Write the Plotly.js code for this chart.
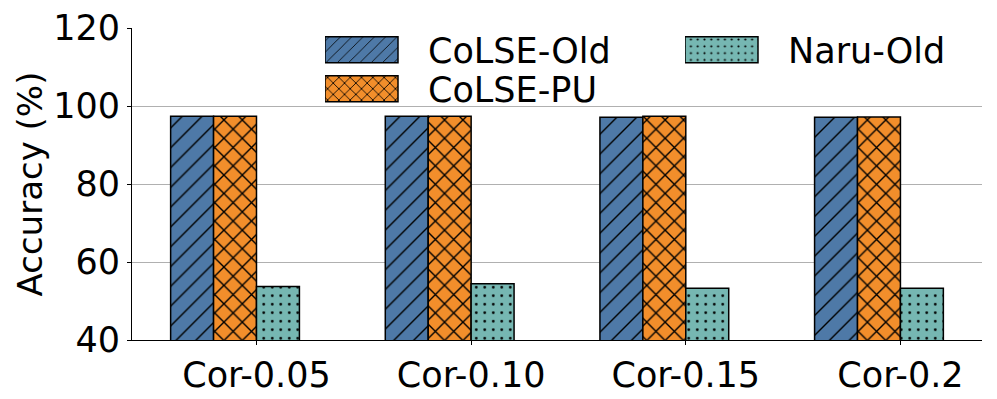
<!DOCTYPE html>
<html>
<head>
<meta charset="utf-8">
<script src="https://cdn.plot.ly/plotly-3.0.1.min.js"></script>
<style>
  body { margin: 0; background: #fff; }
  #plot { width: 997px; height: 399px; }
</style>
</head>
<body>
<div id="plot"></div>
<script>
// categories on the x axis
const categories = ['Cor-0.05', 'Cor-0.10', 'Cor-0.15', 'Cor-0.2'];

// accuracy values (%)
const colseOld = [97.4, 97.4, 97.1, 97.1];
const colsePU = [97.4, 97.4, 97.4, 97.2];
const naruOld = [53.7, 54.4, 53.3, 53.3];
// fourth slot of each group is empty in the original
const emptySlot = [null, null, null, null];

const yTicks = [40, 60, 80, 100, 120];

const font = 'DejaVu Sans, sans-serif';

function barTrace(name, y, color, shape, size, solidity, legend) {
    return {
        type: 'bar',
        name: name,
        x: categories,
        y: y,
        legend: legend,
        marker: {
            color: color,
            line: { color: '#000', width: 1.5 },
            pattern: { shape: shape, fgcolor: '#000', bgcolor: color, size: size, solidity: solidity }
        }
    };
}

const traces = [
    barTrace('CoLSE-Old', colseOld, '#4e79a7', '/', 14, 0.1, 'legend'),
    barTrace('CoLSE-PU', colsePU, '#f28e2b', 'x', 13, 0.2, 'legend2'),
    barTrace('Naru-Old', naruOld, '#76b7b2', '.', 8.5, 0.08, 'legend3'),
    { type: 'bar', x: categories, y: emptySlot, showlegend: false, hoverinfo: 'skip' }
];

const legendStyle = {
    font: { family: font, size: 35, color: '#000' },
    bgcolor: 'rgba(0,0,0,0)',
    borderwidth: 0,
    xanchor: 'left',
    yanchor: 'middle',
    itemwidth: 93
};

// paper coords of the three legend entries
function px(x) { return (x - 132) / 850; }
function py(y) { return (340 - y) / 312; }

const layout = {
    width: 997,
    height: 399,
    margin: { l: 132, r: 15, t: 28, b: 59 },
    paper_bgcolor: '#fff',
    plot_bgcolor: '#fff',
    barmode: 'group',
    bargap: 0.2,
    bargroupgap: 0,
    font: { family: font, size: 35, color: '#000' },
    xaxis: {
        type: 'category',
        range: [-0.58, 3.38],
        showline: true,
        linecolor: '#000',
        linewidth: 1,
        ticks: 'outside',
        ticklen: 4,
        tickcolor: '#000',
        showgrid: false,
        tickfont: { family: font, size: 35 }
    },
    yaxis: {
        range: [40, 120],
        tickvals: yTicks,
        showline: true,
        linecolor: '#000',
        linewidth: 1,
        ticks: 'outside',
        ticklen: 4,
        tickcolor: '#000',
        showgrid: true,
        gridcolor: '#b0b0b0',
        gridwidth: 1,
        zeroline: false,
        tickfont: { family: font, size: 35 },
        title: { text: 'Accuracy (%)', font: { family: font, size: 34 }, standoff: 0 }
    },
    legend: Object.assign({ x: px(325), y: py(50) }, legendStyle),
    legend2: Object.assign({ x: px(325), y: py(89) }, legendStyle),
    legend3: Object.assign({ x: px(685), y: py(50) }, legendStyle)
};

Plotly.newPlot('plot', traces, layout, { staticPlot: true }).then(function (gd) {
    // widen legend swatches to match the wide patches of the original
    gd.querySelectorAll('.legendpoints path').forEach(function (p) {
        p.setAttribute('d', 'M36.5,13H-36.5V-13H36.5Z');
        p.setAttribute('transform', 'translate(36.5,0)');
    });
});
</script>
</body>
</html>
